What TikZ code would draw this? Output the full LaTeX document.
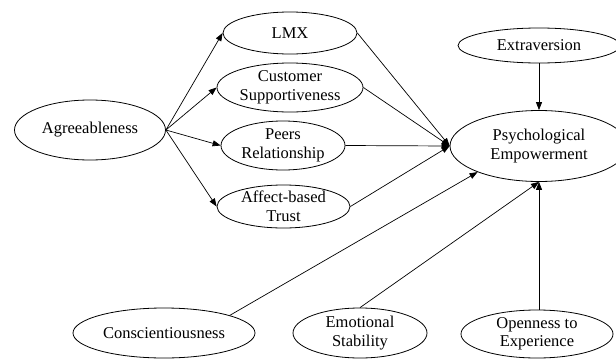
\documentclass[tikz,border=0pt]{standalone}
\usepackage{fontspec}
\setmainfont{Liberation Serif}
\usetikzlibrary{shapes.geometric,arrows.meta}
\begin{document}
\begin{tikzpicture}[x=1pt,y=-1pt,
  var/.style={draw,ellipse,inner sep=0pt,align=center,font=\fontsize{16.5}{18.5}\selectfont,line width=0.8pt},
  arr/.style={-{Triangle[length=8pt,width=6pt]},line width=0.7pt}]
\useasboundingbox (0,0) rectangle (616,359);
\node[var,minimum width=151,minimum height=60] (agree) at (90,130) {Agreeableness};
\node[var,minimum width=134,minimum height=42] (lmx) at (290,33) {LMX};
\node[var,minimum width=146,minimum height=49] (cust) at (290,87.5) {Customer\\Supportiveness};
\node[var,minimum width=124,minimum height=49] (peers) at (283,145.5) {Peers\\Relationship};
\node[var,minimum width=133,minimum height=43] (trust) at (283.5,206.5) {Affect-based\\Trust};
\node[var,minimum width=162,minimum height=35] (extra) at (539,45.5) {Extraversion};
\node[var,minimum width=178,minimum height=71] (pe) at (539,146) {Psychological\\Empowerment};
\node[var,minimum width=182,minimum height=50] (consc) at (164,333) {Conscientiousness};
\node[var,minimum width=134,minimum height=50] (emo) at (360,333) {Emotional\\Stability};
\node[var,minimum width=152,minimum height=48] (open) at (537,334) {Openness to\\Experience};

\draw[arr] (agree.east) -- (lmx.west);
\draw[arr] (agree.east) -- (cust.west);
\draw[arr] (agree.east) -- (peers.west);
\draw[arr] (agree.east) -- (trust.west);

\draw[arr] (lmx.east) -- (pe.west);
\draw[arr] (cust.east) -- (pe.west);
\draw[arr] (peers.east) -- (pe.west);
\draw[arr] (trust.east) -- (pe.west);

\draw[arr] (extra.south) -- (pe.north);
\draw[arr] (consc.15) -- (pe.203.5);
\draw[arr] (emo.north) -- (pe.south);
\draw[arr] (open.north -| pe.south) -- (pe.south);
\end{tikzpicture}
\end{document}
